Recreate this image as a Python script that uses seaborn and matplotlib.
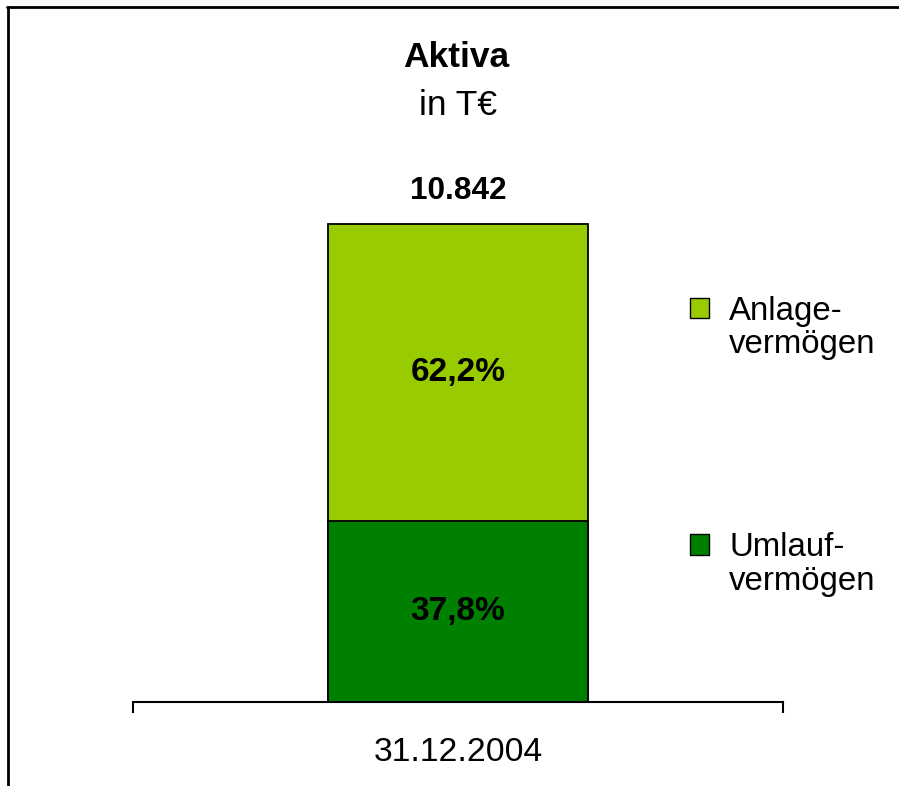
import matplotlib
matplotlib.use("Agg")
import matplotlib.pyplot as plt
import matplotlib.patches as mpatches
from matplotlib.legend_handler import HandlerPatch
from matplotlib.lines import Line2D
import pandas as pd
import seaborn as sns

# chart data
date_label = ['31.12.2004']
segments = ['Umlauf-\nvermögen', 'Anlage-\nvermögen']
shares = [37.8, 62.2]
share_labels = ['37,8%', '62,2%']
total_label = '10.842'
colors = ['#008000', '#99CC00']

sns.set_style('white')
plt.rcParams['font.family'] = ['Liberation Sans', 'DejaVu Sans']
plt.rcParams['text.color'] = 'black'

W, H = 899, 786
fig = plt.figure(figsize=(W / 100, H / 100), dpi=100)
ax = fig.add_axes([133 / W, 1 - 702 / H, 650 / W, 573.6 / H])

df = pd.DataFrame({'date': date_label * 2, 'segment': segments, 'share': shares})
df['top'] = df['share'].cumsum()

# stacked bar: full height first, lower segment drawn over it
sns.barplot(x=df['date'].iloc[[1]], y=df['top'].iloc[[1]], color=colors[1],
            saturation=1, width=0.4, edgecolor='black', linewidth=1.3, ax=ax)
sns.barplot(x=df['date'].iloc[[0]], y=df['share'].iloc[[0]], color=colors[0],
            saturation=1, width=0.4, edgecolor='black', linewidth=1.3, ax=ax)

ax.set_xlim(-0.5, 0.5)
ax.set_ylim(0, 120)
ax.set_xlabel('')
ax.set_ylabel('')
ax.set_yticks([])
ax.set_xticks([-0.5, 0.5], ['', ''])
ax.set_xticks([0], date_label, minor=True)
ax.tick_params(axis='x', which='major', bottom=True, direction='out', length=8, width=1.5, color='black')
ax.tick_params(axis='x', which='minor', bottom=True, length=0, pad=25, labelsize=24.2, labelcolor='black')
for side in ['top', 'left', 'right']:
    ax.spines[side].set_visible(False)
ax.spines['bottom'].set_color('black')
ax.spines['bottom'].set_linewidth(1.5)

# segment and total labels
bottoms = df['top'] - df['share']
for b, s, lab in zip(bottoms, df['share'], share_labels):
    ax.text(0, b + s / 2, lab, ha='center', va='center', fontsize=24, fontweight='bold')
ax.annotate(total_label, xy=(0, df['top'].iloc[-1]), xytext=(0, 18), textcoords='offset points',
            ha='center', va='baseline', fontsize=22.7, fontweight='bold')

# title
fig.text(456 / W, 1 - 67 / H, 'Aktiva', ha='center', va='baseline', fontsize=25.5, fontweight='bold')
fig.text(458 / W, 1 - 115 / H, 'in T€', ha='center', va='baseline', fontsize=25.5)


def top_square(legend, orig_handle, xdescent, ydescent, width, height, fontsize):
    return mpatches.Rectangle((-xdescent, -ydescent + 14.8), width, height)


handles = [ax.patches[0], ax.patches[1]]
leg = fig.legend(handles, [segments[1], segments[0]], loc='upper left',
                 bbox_to_anchor=(690 / W, 1 - 296 / H), frameon=False, fontsize=23.8,
                 handlelength=0.58, handleheight=0.58, handletextpad=0.61,
                 labelspacing=5.2, borderpad=0, borderaxespad=0,
                 handler_map={mpatches.Rectangle: HandlerPatch(patch_func=top_square)})
for t in leg.get_texts():
    t.set_linespacing(1.1)
for p in leg.get_patches():
    p.set_linewidth(1.0)

# outer frame (top and left edges only)
fig.add_artist(Line2D([7 / W, 1], [1 - 6.5 / H] * 2, transform=fig.transFigure, color='black', lw=2))
fig.add_artist(Line2D([7.5 / W] * 2, [0, 1 - 6.5 / H], transform=fig.transFigure, color='black', lw=2))

fig.savefig('out.png', dpi=100)
